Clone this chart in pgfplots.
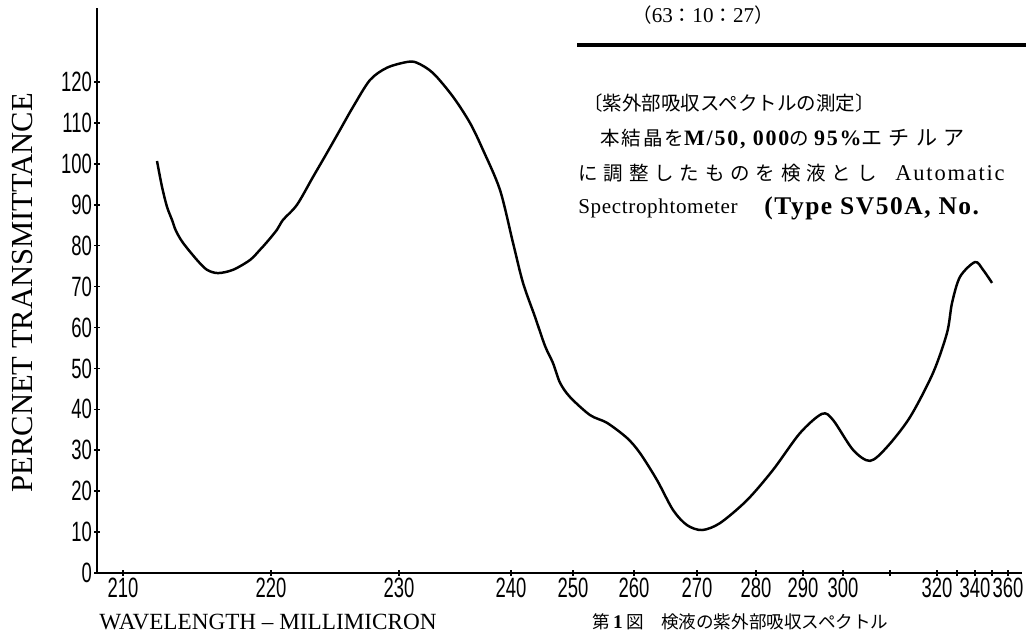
\documentclass[border=0pt]{standalone}
\usepackage{fontspec}
\setmainfont{Liberation Serif}
\newfontfamily\serifsp[LetterSpace=8]{Liberation Serif}
\newfontfamily\seriflt[LetterSpace=3]{Liberation Serif}
\newfontfamily\serifwd[LetterSpace=6]{Liberation Serif}
\newfontfamily\tickfont[FakeStretch=0.66]{Liberation Sans}
\newfontfamily\cjk{Noto Sans CJK JP}
\newfontfamily\cjkmid[LetterSpace=10]{Noto Sans CJK JP}
\newfontfamily\cjkwide[LetterSpace=30]{Noto Sans CJK JP}
\usepackage{pgfplots}
\pgfplotsset{compat=1.18}

% x is kept in chart-paper position (the recorder's wavelength scale is not linear)
\newcommand\jp[1]{{\cjk\fontsize{11.1}{13}\selectfont #1}}

\begin{document}
\begin{tikzpicture}[x=0.2mm,y=0.2mm]
\useasboundingbox (0,0) rectangle (1026,639);
\begin{axis}[
  at={(19.4mm,13.2mm)}, anchor=south west,
  scale only axis, width=185mm, height=113mm,
  xmin=97, xmax=1022, ymin=0, ymax=138.1,
  axis lines*=left,
  axis line style={line width=1.5pt},
  tick align=center, major tick length=1.2mm,
  tick style={black, line width=0.9pt},
  xtick={123,271,399,511,573,634,697,756,803,843,937,975,1008},
  xticklabels={210,220,230,240,250,260,270,280,290,300,320,340,360},
  extra x ticks={890,957,992}, extra x tick labels={},
  ytick={0,10,...,120},
  /pgf/number format/assume math mode=true,
  ticklabel style={font=\tickfont\fontsize{15.9}{16}\selectfont, inner sep=1pt},
  ylabel={PERCNET TRANSMITTANCE},
  ylabel style={at={(axis description cs:-0.081,0.496)}, anchor=center,
    font=\fontsize{17.4}{17.4}\selectfont},
  clip=false,
]
\addplot[black, line width=1.4pt, smooth, tension=0.5] coordinates {
  (157,100.7) (162,94.4) (167,89.5) (172,86.3) (176,83.6) (183,80.7)
  (197,76.5) (207,74.1) (218,73.3) (233,74.1) (250,76.5) (260,79.0)
  (267,80.9) (277,83.9) (283,86.3) (297,90.0) (313,96.8) (327,102.7)
  (340,108.3) (353,113.9) (370,120.5) (387,123.5) (407,124.9) (417,124.7)
  (433,122.2) (453,116.4) (470,110.0) (483,103.4) (500,93.6) (513,80.7)
  (523,70.9) (535,62.6) (545,55.5) (553,51.3) (560,46.5) (570,43.0)
  (590,38.6) (607,36.7) (627,33.0) (640,29.3) (657,22.7) (673,15.4)
  (687,11.7) (702,10.5) (720,12.2) (747,17.8) (773,25.2) (800,34.2)
  (822,38.9) (833,37.4) (853,30.1) (870,27.4) (887,30.8) (910,38.1)
  (933,48.9) (947,58.7) (952,66.0) (960,72.4) (975,76.0) (983,74.1)
  (992,70.9)
};
\end{axis}

\node[font=\fontsize{13.2}{14}\selectfont] at (268,17) {WAVELENGTH -- MILLIMICRON};

\node[font=\fontsize{12}{14}\selectfont] at (703,624)
  {\jp{（}63\jp{：}10\jp{：}27\jp{）}};
\draw[line width=0.7mm] (577,594) -- (1026,594);
\begin{scope}[every node/.style={anchor=west, inner sep=0pt, font=\fontsize{12}{14}\selectfont}]
\node at (583,536) {\jp{〔紫外部吸収スペクトルの測定〕}};
\node at (600,500) {{\cjkmid\fontsize{11.1}{13}\selectfont 本結晶を}{\serifsp\fontsize{12.5}{14}\selectfont\bfseries M/50, 000}{\cjkmid\fontsize{11.1}{13}\selectfont の}\ {\serifsp\fontsize{12.5}{14}\selectfont\bfseries 95\%}{\cjkwide\fontsize{12}{13}\selectfont エチルア}};
\node at (578,466) {{\cjkwide\fontsize{11.1}{13}\selectfont に調整したものを検液とし}};
\node at (895,466) {\serifsp\fontsize{12.8}{14}\selectfont Automatic};
\node at (578,431) {\seriflt Spectrophtometer};
\node at (764,431) {\serifwd\fontsize{14.5}{15}\selectfont\bfseries (Type SV50A, No.};
\node[font=\fontsize{11}{12}\selectfont] at (592,17)
  {{\cjk\fontsize{10}{12}\selectfont 第}\,\textbf{1}\,{\cjk\fontsize{10}{12}\selectfont 図　検液の紫外部吸収スペクトル}};
\end{scope}
\end{tikzpicture}
\end{document}
